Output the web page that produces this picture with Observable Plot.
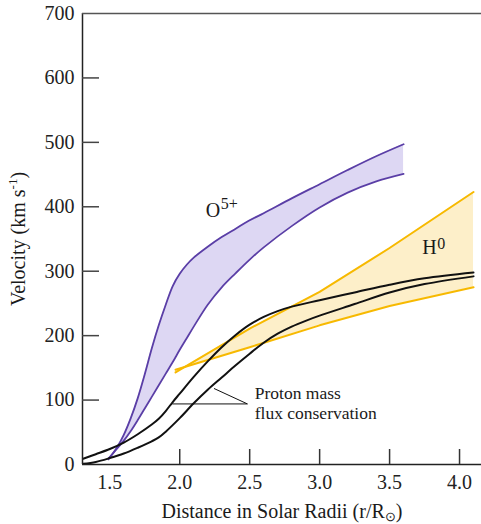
<!DOCTYPE html>
<html>
<head>
<meta charset="utf-8">
<script src="https://cdn.jsdelivr.net/npm/d3@7"></script>
<script src="https://cdn.jsdelivr.net/npm/@observablehq/plot@0.6"></script>
<style>
  html, body { margin: 0; padding: 0; background: #fff; }
  #chart svg { display: block; }
</style>
</head>
<body>
<div id="chart"></div>
<script>
// ---- Data ----
// O5+ outflow velocity band (upper / lower limits), km/s
const o5Radius = [1.49, 1.55, 1.6, 1.65, 1.7, 1.75, 1.8, 1.85, 1.9, 1.95, 2.0, 2.05, 2.1, 2.2, 2.3, 2.4, 2.5, 2.6, 2.8, 3.0, 3.2, 3.4, 3.6];
const o5Upper  = [8, 26, 46, 72, 103, 140, 180, 216, 248, 277, 296, 310, 321, 338, 353, 366, 379, 390, 413, 435, 457, 478, 497];
const o5Lower  = [9, 24, 37, 52, 69, 87, 105, 123, 141, 159, 178, 196, 214, 248, 275, 297, 318, 337, 370, 399, 422, 439, 451];

// H0 outflow velocity band
const h0Radius = [1.97, 2.5, 3.0, 3.5, 4.1];
const h0Upper  = [143, 211, 268, 336, 423];
const h0Lower  = [147, 182, 216, 246, 275];

// Proton mass flux conservation curves
const protonARadius = [1.31, 1.4, 1.5, 1.6, 1.7, 1.8, 1.85, 1.9, 1.95, 2.0, 2.1, 2.2, 2.3, 2.4, 2.5, 2.6, 2.7, 2.8, 3.0, 3.25, 3.5, 3.75, 4.1];
const protonAVel    = [9, 16, 24, 34, 47, 62, 71, 83, 97, 110, 136, 160, 182, 201, 217, 229, 238, 245, 255, 267, 279, 289, 298];
const protonBRadius = [1.31, 1.4, 1.5, 1.6, 1.7, 1.8, 1.85, 1.9, 2.0, 2.1, 2.2, 2.3, 2.4, 2.5, 2.6, 2.7, 2.8, 2.9, 3.0, 3.25, 3.5, 3.75, 4.1];
const protonBVel    = [1, 4, 10, 17, 26, 36, 42, 51, 72, 95, 116, 135, 154, 172, 189, 203, 214, 223, 231, 249, 267, 280, 292];

// Axes
const xDomain = [1.305, 4.157];
const yDomain = [0, 700];
const xTickLabels = [1.5, 2.0, 2.5, 3.0, 3.5, 4.0];
const xTickMarks = [2.0, 2.5, 3.0, 3.5, 4.0];
const yTickLabels = [0, 100, 200, 300, 400, 500, 600, 700];
const yTickMarks = [100, 200, 300, 400, 500, 600];

// Annotations (anchored in data coordinates)
const oLabel = [{r: 2.186, v: 384, base: "O", sup: "5+"}];
const hLabel = [{r: 3.734, v: 327, base: "H", sup: "0"}];
const protonLabel = [{r: 2.536, v: 101, text: "Proton mass"}, {r: 2.536, v: 70, text: "flux conservation"}];
const leaders = [
  {r1: 2.484, v1: 94, r2: 1.948, v2: 94},
  {r1: 2.484, v1: 94, r2: 2.245, v2: 118}
];

// ---- Tables ----
const o5Rows = o5Radius.map((r, i) => ({r, hi: o5Upper[i], lo: o5Lower[i]}));
const h0Rows = h0Radius.map((r, i) => ({r, hi: h0Upper[i], lo: h0Lower[i]}));
const protonA = protonARadius.map((r, i) => ({r, v: protonAVel[i]}));
const protonB = protonBRadius.map((r, i) => ({r, v: protonBVel[i]}));

const serif = '"Liberation Serif", "Times New Roman", Times, serif';
const purple = "#5a3ea6", purpleFill = "#ddd7f3";
const gold = "#f7b900", goldFill = "#fdefc9";
const ink = "#111";

const chart = Plot.plot({
  width: 481,
  height: 524,
  marginLeft: 82,
  marginRight: 0,
  marginTop: 13,
  marginBottom: 60,
  x: {domain: xDomain},
  y: {domain: yDomain},
  style: {fontFamily: serif, fontSize: "20px", color: "#1a1a1a", background: "#fff", overflow: "visible"},
  marks: [
    Plot.areaY(o5Rows, {x: "r", y1: "lo", y2: "hi", fill: purpleFill, curve: "catmull-rom"}),
    Plot.areaY(h0Rows, {x: "r", y1: "lo", y2: "hi", fill: goldFill}),
    Plot.lineY(o5Rows, {x: "r", y: "hi", stroke: purple, strokeWidth: 1.8, curve: "catmull-rom"}),
    Plot.lineY(o5Rows, {x: "r", y: "lo", stroke: purple, strokeWidth: 1.8, curve: "catmull-rom"}),
    Plot.lineY(h0Rows, {x: "r", y: "hi", stroke: gold, strokeWidth: 2}),
    Plot.lineY(h0Rows, {x: "r", y: "lo", stroke: gold, strokeWidth: 2}),
    Plot.lineY(protonA, {x: "r", y: "v", stroke: ink, strokeWidth: 2, curve: "catmull-rom"}),
    Plot.lineY(protonB, {x: "r", y: "v", stroke: ink, strokeWidth: 2, curve: "catmull-rom"}),
    Plot.link(leaders, {x1: "r1", y1: "v1", x2: "r2", y2: "v2", stroke: ink, strokeWidth: 1}),
    // frame
    Plot.ruleX([xDomain[0]], {stroke: "#222", strokeWidth: 1.5}),
    Plot.ruleY([yDomain[0]], {stroke: "#222", strokeWidth: 1.5}),
    Plot.ruleY([yDomain[1]], {stroke: "#555", strokeWidth: 1.3}),
    // axes: labels outside, ticks inward
    Plot.axisX(xTickLabels, {tickSize: 0, tickPadding: 10, tickFormat: d3.format(".1f"), label: null, fontSize: 20, fill: "#222"}),
    Plot.axisX(xTickMarks, {tickSize: -15, tickFormat: () => "", label: null, stroke: "#333", strokeWidth: 1.5}),
    Plot.axisY(yTickLabels, {tickSize: 0, tickPadding: 8, label: null, fontSize: 20, fill: "#222"}),
    Plot.axisY(yTickMarks, {tickSize: -17, tickFormat: () => "", label: null, stroke: "#444", strokeWidth: 1.5}),
    // ion labels
    Plot.text(oLabel, {x: "r", y: "v", text: "base", textAnchor: "start", lineAnchor: "bottom", fontSize: 20, fontFamily: serif, fill: "#1a1a1a"}),
    Plot.text(oLabel, {x: "r", y: "v", text: "sup", textAnchor: "start", lineAnchor: "bottom", fontSize: 16, fontFamily: serif, dx: 15, dy: -8, fill: "#1a1a1a"}),
    Plot.text(hLabel, {x: "r", y: "v", text: "base", textAnchor: "start", lineAnchor: "bottom", fontSize: 20, fontFamily: serif, fill: "#1a1a1a"}),
    Plot.text(hLabel, {x: "r", y: "v", text: "sup", textAnchor: "start", lineAnchor: "bottom", fontSize: 16, fontFamily: serif, dx: 15, dy: -5, fill: "#1a1a1a"}),
    Plot.text(protonLabel, {x: "r", y: "v", text: "text", textAnchor: "start", lineAnchor: "bottom", fontSize: 17.5, fontFamily: serif, fill: "#1a1a1a"})
  ]
});

document.getElementById("chart").appendChild(chart);

// Axis titles with super/subscripts
const svg = d3.select(chart);
const yt = svg.append("text")
  .attr("transform", "translate(25,239) rotate(-90)")
  .attr("text-anchor", "middle")
  .style("font-family", serif)
  .attr("font-size", 20)
  .attr("fill", "#1a1a1a");
yt.append("tspan").text("Velocity (km s");
yt.append("tspan").attr("font-size", 13).attr("dy", -8).text("-1");
yt.append("tspan").attr("dy", 8).text(")");

const xt = svg.append("text")
  .attr("x", 282)
  .attr("y", 518)
  .attr("text-anchor", "middle")
  .style("font-family", serif)
  .attr("font-size", 20)
  .attr("fill", "#1a1a1a");
xt.append("tspan").text("Distance in Solar Radii (r/R");
xt.append("tspan").attr("font-size", 13).attr("dy", 3).text("\u2299");
xt.append("tspan").attr("dy", -3).text(")");
</script>
</body>
</html>
